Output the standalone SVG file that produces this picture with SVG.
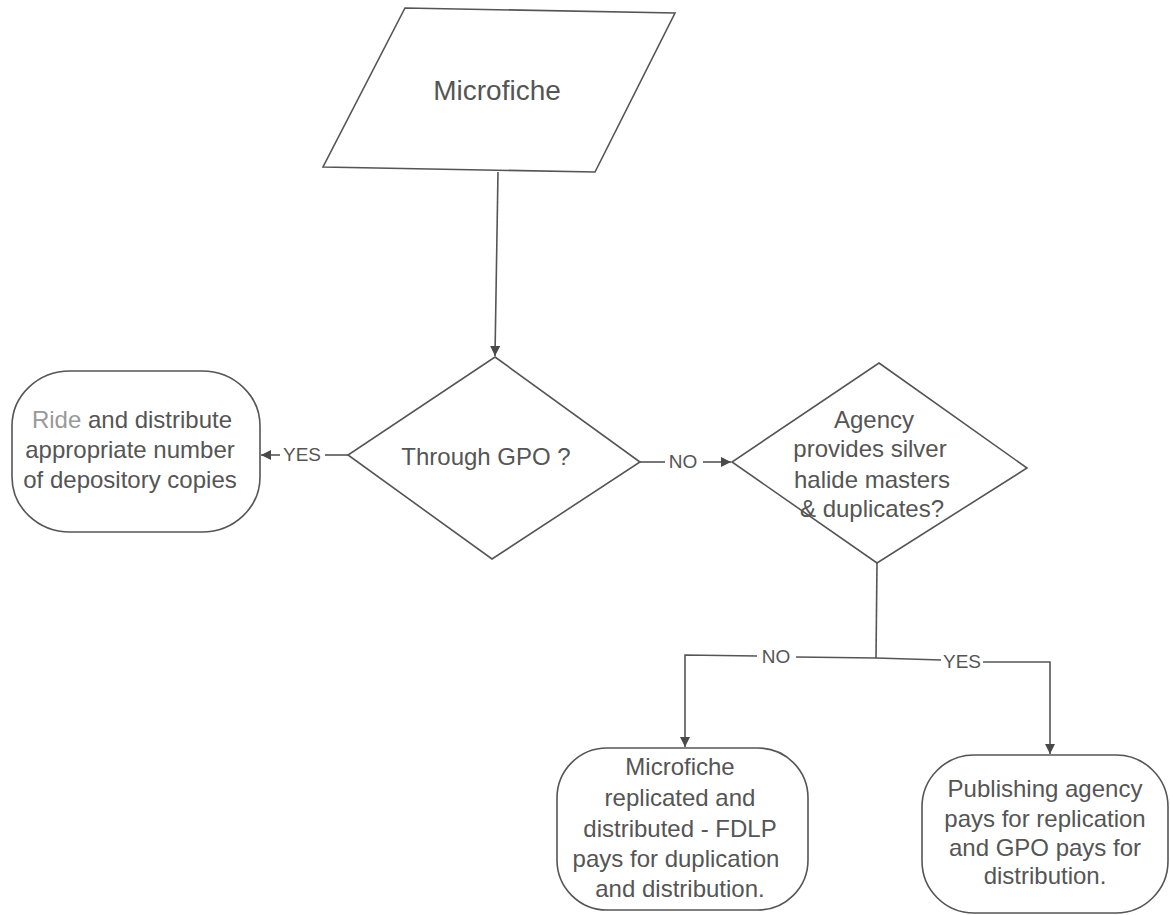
<svg xmlns="http://www.w3.org/2000/svg" width="1170" height="915" viewBox="0 0 1170 915">
<defs>
<marker id="arr" viewBox="0 0 10 10" refX="10" refY="5" markerWidth="11" markerHeight="10" markerUnits="userSpaceOnUse" orient="auto">
<path d="M0,0 L10,5 L0,10 Z" fill="#4a4a4a"/>
</marker>
<style>
.shape{fill:#fff;stroke:#555;stroke-width:1.6}
.conn{fill:none;stroke:#555;stroke-width:1.6}
.t{font-family:"Liberation Sans",Arial,sans-serif;fill:#555;text-anchor:middle}
.big{font-size:28px}
.mid{font-size:24px}
.lab{font-size:19px;dominant-baseline:central}
</style>
</defs>
<rect width="1170" height="915" fill="#fff"/>
<g id="connectors">
<path class="conn" d="M498,172 L495,356" marker-end="url(#arr)"/>
<path class="conn" d="M348,455 L325,455"/>
<path class="conn" d="M280,455 L261,455" marker-end="url(#arr)"/>
<text class="t lab" x="302" y="454">YES</text>
<path class="conn" d="M640,462 L665,462"/>
<path class="conn" d="M703,462 L731,462" marker-end="url(#arr)"/>
<text class="t lab" x="683" y="461">NO</text>
<path class="conn" d="M877,563 L876,658"/>
<path class="conn" d="M876,658 L796,657"/>
<path class="conn" d="M757,656 L685,655 L685,747" marker-end="url(#arr)"/>
<text class="t lab" x="776" y="656">NO</text>
<path class="conn" d="M876,658 L941,660"/>
<path class="conn" d="M983,662 L1050,662 L1050,754" marker-end="url(#arr)"/>
<text class="t lab" x="962" y="661">YES</text>
</g>
<g id="microfiche">
<path class="shape" d="M405,8 L675,13 L595,172 L323,167 Z"/>
<text class="t big" x="497" y="100">Microfiche</text>
</g>
<g id="through-gpo">
<path class="shape" d="M495,357 L640,462 L492,559 L348,455 Z"/>
<text class="t mid" x="486" y="465">Through GPO ?</text>
</g>
<g id="ride-distribute">
<rect class="shape" x="12" y="371" width="248" height="161" rx="58" ry="55"/>
<text class="t mid" x="132" y="428"><tspan fill="#999">Ride</tspan> and distribute</text>
<text class="t mid" x="130" y="458">appropriate number</text>
<text class="t mid" x="130" y="488">of depository copies</text>
</g>
<g id="agency-provides">
<path class="shape" d="M879,363 L1027,468 L877,563 L732,462 Z"/>
<text class="t mid" x="874" y="428">Agency</text>
<text class="t mid" x="870" y="457">provides silver</text>
<text class="t mid" x="872" y="488">halide masters</text>
<text class="t mid" x="872" y="517">&amp; duplicates?</text>
</g>
<g id="fdlp-pays">
<rect class="shape" x="557" y="748" width="251" height="162" rx="50" ry="50"/>
<text class="t mid" x="680" y="775">Microfiche</text>
<text class="t mid" x="680" y="806">replicated and</text>
<text class="t mid" x="680" y="837">distributed - FDLP</text>
<text class="t mid" x="676" y="867">pays for duplication</text>
<text class="t mid" x="680" y="897">and distribution.</text>
</g>
<g id="agency-pays">
<rect class="shape" x="922" y="755" width="246" height="158" rx="52" ry="52"/>
<text class="t mid" x="1045" y="797">Publishing agency</text>
<text class="t mid" x="1045" y="827">pays for replication</text>
<text class="t mid" x="1045" y="856">and GPO pays for</text>
<text class="t mid" x="1045" y="884">distribution.</text>
</g>
</svg>
